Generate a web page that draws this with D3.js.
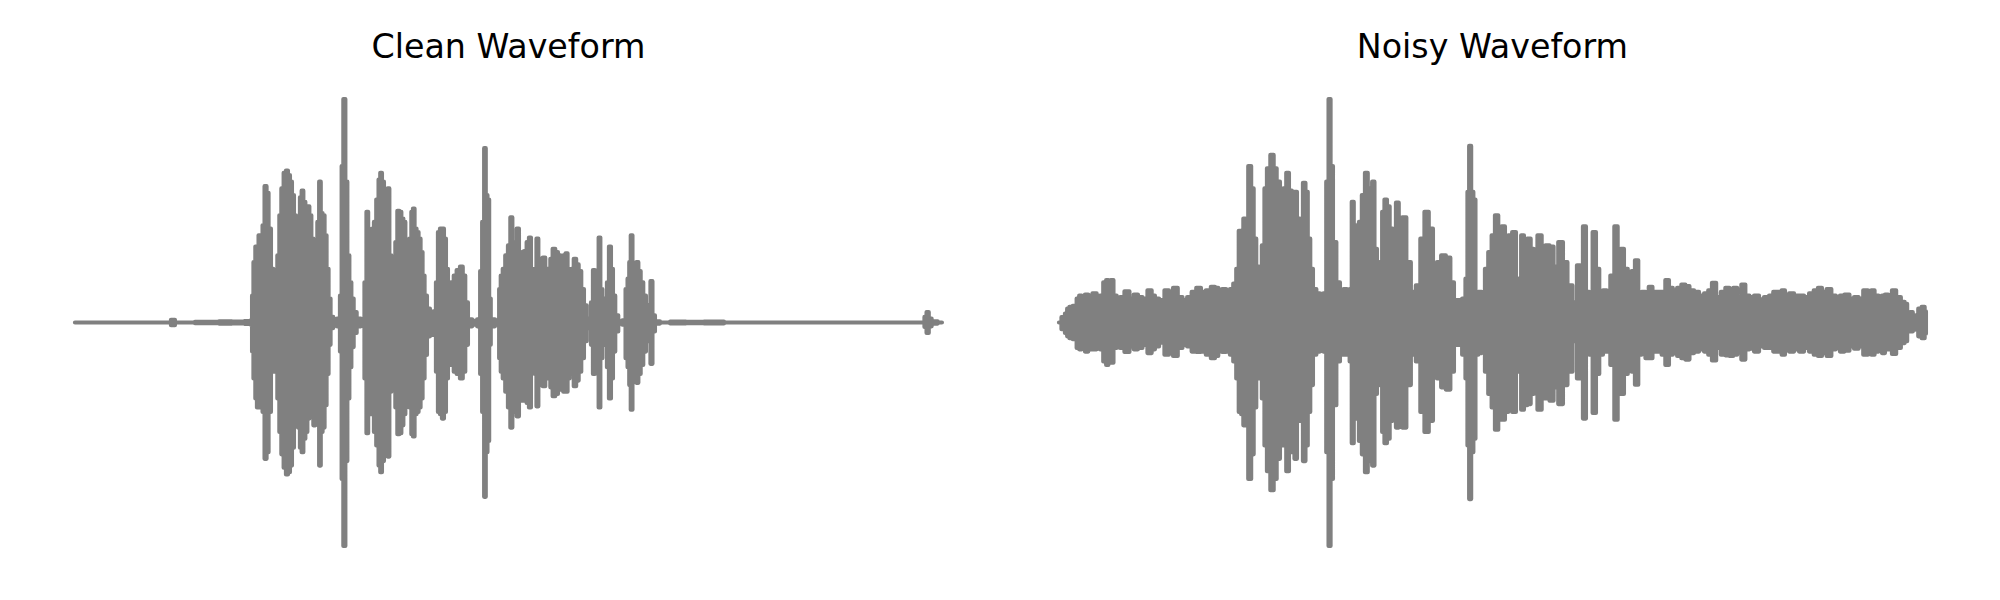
<!DOCTYPE html>
<html><head><meta charset="utf-8">
<script src="https://cdn.jsdelivr.net/npm/d3@7"></script>
<style>body{margin:0;background:#fff}</style>
</head><body><svg id="chart" width="2000" height="600"></svg>
<script>
// Titles of the two panels
const panelTitles = ["Clean Waveform", "Noisy Waveform"];
// Duration of the recording (seconds)
const duration = 4.335;

// Envelope of the clean waveform: [time (s), upper amplitude, lower amplitude]
const cleanEnvelope = [
[0,0,0],[0.47,0,0],[0.49,0.012,-0.012],[0.51,0,0],[0.69,0.003,-0.003],[0.75,0.005,-0.005],[0.82,0.004,-0.004],[0.875,0.006,-0.006],
[0.883,0.01,-0.01],[0.888,0.12,-0.13],[0.897,0.27,-0.25],[0.907,0.34,-0.34],[0.913,0.32,-0.38],[0.923,0.39,-0.38],[0.933,0.375,-0.34],
[0.943,0.435,-0.40],[0.953,0.61,-0.61],[0.963,0.58,-0.58],[0.973,0.42,-0.40],[0.987,0.24,-0.22],[0.997,0.215,-0.21],[1.007,0.22,-0.22],
[1.017,0.30,-0.34],[1.027,0.48,-0.49],[1.037,0.60,-0.59],[1.05,0.67,-0.65],[1.06,0.68,-0.68],[1.07,0.66,-0.67],[1.08,0.63,-0.64],
[1.09,0.57,-0.56],[1.10,0.48,-0.46],[1.11,0.39,-0.40],[1.12,0.45,-0.47],[1.13,0.56,-0.56],[1.137,0.59,-0.58],[1.147,0.54,-0.52],
[1.157,0.52,-0.49],[1.167,0.52,-0.43],[1.177,0.48,-0.40],[1.187,0.375,-0.38],[1.197,0.345,-0.46],[1.207,0.345,-0.38],[1.217,0.45,-0.40],
[1.225,0.63,-0.64],[1.233,0.49,-0.49],[1.243,0.48,-0.47],[1.253,0.39,-0.37],[1.263,0.24,-0.23],[1.273,0.107,-0.10],[1.283,0.025,-0.025],
[1.30,0.01,-0.01],[1.32,0.017,-0.017],[1.33,0.12,-0.13],[1.337,0.70,-0.70],[1.347,1.0,-1.0],[1.357,0.63,-0.62],[1.367,0.30,-0.34],
[1.377,0.18,-0.20],[1.387,0.107,-0.11],[1.40,0.047,-0.047],[1.417,0.017,-0.017],[1.442,0.005,-0.005],[1.453,0.18,-0.25],[1.462,0.495,-0.495],
[1.47,0.39,-0.40],[1.48,0.39,-0.41],[1.49,0.42,-0.40],[1.50,0.45,-0.49],[1.513,0.55,-0.55],[1.523,0.64,-0.64],[1.53,0.67,-0.67],
[1.54,0.63,-0.62],[1.55,0.51,-0.52],[1.56,0.57,-0.58],[1.567,0.60,-0.60],[1.577,0.30,-0.31],[1.587,0.12,-0.13],[1.597,0.10,-0.10],
[1.607,0.36,-0.38],[1.617,0.50,-0.50],[1.627,0.495,-0.495],[1.637,0.465,-0.46],[1.647,0.45,-0.41],[1.657,0.33,-0.32],[1.667,0.315,-0.29],
[1.677,0.375,-0.38],[1.687,0.495,-0.50],[1.693,0.51,-0.51],[1.703,0.42,-0.41],[1.713,0.405,-0.40],[1.723,0.375,-0.38],[1.733,0.315,-0.34],
[1.743,0.21,-0.25],[1.753,0.12,-0.145],[1.767,0.062,-0.062],[1.783,0.047,-0.055],[1.80,0.05,-0.055],[1.81,0.18,-0.22],[1.82,0.405,-0.40],
[1.83,0.42,-0.41],[1.84,0.42,-0.43],[1.85,0.375,-0.40],[1.86,0.24,-0.25],[1.87,0.12,-0.13],[1.888,0.18,-0.19],[1.90,0.21,-0.22],
[1.917,0.235,-0.23],[1.933,0.25,-0.25],[1.945,0.21,-0.22],[1.958,0.09,-0.10],[1.972,0.014,-0.017],[2.0,0.008,-0.01],[2.022,0.014,-0.017],
[2.03,0.23,-0.23],[2.042,0.45,-0.40],[2.05,0.78,-0.78],[2.058,0.57,-0.58],[2.067,0.55,-0.53],[2.075,0.107,-0.10],[2.083,0.014,-0.017],
[2.117,0.01,-0.01],[2.125,0.15,-0.16],[2.133,0.21,-0.22],[2.145,0.24,-0.25],[2.158,0.30,-0.31],[2.172,0.345,-0.38],[2.182,0.47,-0.47],
[2.192,0.36,-0.40],[2.202,0.33,-0.37],[2.215,0.42,-0.42],[2.225,0.315,-0.34],[2.238,0.31,-0.35],[2.252,0.32,-0.34],[2.265,0.36,-0.36],
[2.275,0.38,-0.38],[2.285,0.24,-0.22],[2.295,0.15,-0.13],[2.303,0.24,-0.23],[2.312,0.375,-0.375],[2.322,0.27,-0.26],[2.333,0.285,-0.28],
[2.345,0.29,-0.285],[2.358,0.24,-0.25],[2.372,0.18,-0.20],[2.382,0.285,-0.29],[2.395,0.33,-0.33],[2.408,0.315,-0.32],[2.422,0.30,-0.29],
[2.435,0.285,-0.30],[2.448,0.30,-0.31],[2.458,0.31,-0.31],[2.468,0.24,-0.25],[2.478,0.15,-0.19],[2.488,0.24,-0.23],[2.5,0.285,-0.285],
[2.512,0.26,-0.26],[2.525,0.23,-0.22],[2.538,0.15,-0.16],[2.552,0.077,-0.084],[2.565,0.017,-0.025],[2.575,0.005,-0.005],[2.585,0.09,-0.10],
[2.595,0.235,-0.23],[2.605,0.15,-0.16],[2.615,0.196,-0.20],[2.622,0.38,-0.38],[2.632,0.15,-0.16],[2.642,0.107,-0.10],[2.655,0.09,-0.084],
[2.665,0.18,-0.20],[2.675,0.34,-0.34],[2.685,0.24,-0.25],[2.695,0.12,-0.13],[2.708,0.032,-0.04],[2.725,0.005,-0.005],[2.748,0.01,-0.01],
[2.758,0.15,-0.16],[2.768,0.196,-0.20],[2.775,0.27,-0.28],[2.783,0.39,-0.39],[2.792,0.24,-0.25],[2.802,0.26,-0.26],[2.812,0.27,-0.27],
[2.822,0.23,-0.23],[2.835,0.18,-0.19],[2.848,0.12,-0.13],[2.862,0.077,-0.084],[2.872,0.047,-0.055],[2.883,0.185,-0.185],[2.892,0.032,-0.04],
[2.908,0.005,-0.005],[2.942,0,0],[3.01,0.004,-0.004],[3.1,0.003,-0.003],[3.19,0.004,-0.004],[3.3,0,0],[4.242,0,0],
[4.253,0.025,-0.02],[4.263,0.047,-0.047],[4.275,0.017,-0.017],[4.292,0.005,-0.005],[4.335,0,0]
];

// Envelope of the noisy waveform: [time (s), upper amplitude, lower amplitude]
const noisyEnvelope = [
[0,0,0],[0.025,0.024,-0.03],[0.035,0.04,-0.047],[0.047,0.062,-0.062],[0.058,0.07,-0.07],[0.08,0.075,-0.075],[0.097,0.107,-0.114],
[0.105,0.12,-0.12],[0.122,0.114,-0.114],[0.138,0.125,-0.13],[0.155,0.12,-0.12],[0.18,0.13,-0.12],[0.197,0.104,-0.107],[0.213,0.12,-0.12],
[0.23,0.18,-0.174],[0.242,0.19,-0.19],[0.252,0.13,-0.144],[0.265,0.19,-0.18],[0.28,0.12,-0.114],[0.297,0.10,-0.10],[0.313,0.114,-0.114],
[0.342,0.14,-0.132],[0.363,0.107,-0.107],[0.385,0.125,-0.12],[0.405,0.114,-0.114],[0.43,0.107,-0.10],[0.455,0.144,-0.137],[0.472,0.12,-0.12],
[0.488,0.107,-0.107],[0.513,0.10,-0.09],[0.542,0.144,-0.144],[0.558,0.12,-0.12],[0.583,0.155,-0.15],[0.605,0.114,-0.114],[0.63,0.10,-0.10],
[0.652,0.114,-0.107],[0.675,0.137,-0.13],[0.698,0.155,-0.132],[0.722,0.137,-0.13],[0.747,0.144,-0.144],[0.772,0.16,-0.16],[0.788,0.155,-0.15],
[0.805,0.12,-0.12],[0.825,0.15,-0.132],[0.847,0.13,-0.13],[0.863,0.15,-0.144],
[0.88,0.174,-0.174],[0.893,0.24,-0.25],[0.905,0.41,-0.40],[0.917,0.33,-0.41],[0.927,0.465,-0.46],[0.938,0.435,-0.40],[0.955,0.70,-0.70],
[0.967,0.60,-0.59],[0.98,0.375,-0.38],[0.993,0.25,-0.25],[1.007,0.24,-0.23],[1.022,0.345,-0.34],[1.033,0.60,-0.55],[1.047,0.69,-0.665],
[1.067,0.75,-0.75],[1.08,0.69,-0.70],[1.097,0.63,-0.61],[1.113,0.435,-0.50],[1.13,0.60,-0.55],[1.143,0.67,-0.665],[1.157,0.59,-0.58],
[1.172,0.58,-0.55],[1.183,0.585,-0.61],[1.197,0.465,-0.44],[1.213,0.42,-0.41],[1.227,0.625,-0.62],[1.238,0.585,-0.55],[1.25,0.375,-0.40],
[1.263,0.24,-0.28],[1.277,0.15,-0.144],[1.297,0.13,-0.13],[1.313,0.12,-0.12],[1.33,0.13,-0.13],[1.343,0.63,-0.58],[1.353,1.0,-1.0],
[1.363,0.70,-0.70],[1.377,0.36,-0.37],[1.397,0.18,-0.174],[1.413,0.107,-0.114],[1.433,0.15,-0.144],[1.447,0.12,-0.13],[1.46,0.15,-0.174],
[1.468,0.54,-0.54],[1.48,0.435,-0.43],[1.493,0.43,-0.43],[1.507,0.45,-0.53],[1.522,0.57,-0.59],[1.538,0.67,-0.67],[1.55,0.60,-0.62],
[1.56,0.52,-0.55],[1.572,0.63,-0.64],[1.583,0.33,-0.32],[1.597,0.166,-0.16],[1.61,0.27,-0.28],[1.622,0.495,-0.49],[1.633,0.55,-0.54],
[1.647,0.52,-0.52],[1.66,0.42,-0.44],[1.677,0.375,-0.37],[1.693,0.536,-0.47],[1.705,0.42,-0.41],[1.727,0.47,-0.47],[1.747,0.27,-0.28],
[1.772,0.137,-0.144],[1.797,0.166,-0.174],[1.817,0.375,-0.40],[1.838,0.495,-0.49],[1.86,0.42,-0.44],
[1.88,0.21,-0.21],[1.9,0.27,-0.25],[1.922,0.30,-0.29],[1.947,0.29,-0.30],[1.967,0.18,-0.22],[1.983,0.10,-0.10],[2.005,0.10,-0.10],
[2.027,0.107,-0.144],[2.038,0.196,-0.25],[2.047,0.585,-0.55],[2.055,0.79,-0.79],[2.067,0.585,-0.58],[2.077,0.55,-0.52],[2.088,0.12,-0.144],
[2.105,0.137,-0.137],[2.122,0.084,-0.09],[2.138,0.24,-0.22],[2.155,0.315,-0.32],[2.172,0.39,-0.38],[2.188,0.48,-0.48],[2.205,0.345,-0.38],
[2.222,0.43,-0.435],[2.238,0.375,-0.40],[2.255,0.39,-0.38],[2.277,0.405,-0.40],[2.293,0.15,-0.13],[2.305,0.196,-0.22],[2.317,0.39,-0.39],
[2.333,0.36,-0.37],[2.35,0.375,-0.365],[2.367,0.33,-0.32],[2.38,0.256,-0.26],[2.405,0.39,-0.39],[2.422,0.315,-0.34],[2.443,0.345,-0.34],
[2.463,0.34,-0.35],[2.483,0.25,-0.29],[2.51,0.36,-0.365],[2.53,0.27,-0.28],[2.555,0.166,-0.22],[2.58,0.09,-0.084],[2.6,0.256,-0.25],
[2.613,0.15,-0.13],[2.627,0.43,-0.43],[2.643,0.137,-0.13],[2.66,0.12,-0.144],[2.677,0.405,-0.405],[2.693,0.24,-0.23],[2.71,0.137,-0.144],
[2.73,0.144,-0.13],[2.747,0.12,-0.13],[2.767,0.21,-0.19],[2.787,0.43,-0.435],[2.8,0.26,-0.28],[2.817,0.33,-0.32],[2.833,0.24,-0.23],
[2.855,0.196,-0.174],[2.872,0.23,-0.22],[2.888,0.278,-0.278],[2.905,0.12,-0.144],[2.922,0.137,-0.13],[2.943,0.12,-0.16],
[2.955,0.16,-0.16],[2.98,0.137,-0.13],[3.005,0.137,-0.13],[3.022,0.137,-0.144],[3.042,0.19,-0.19],[3.058,0.155,-0.144],[3.08,0.144,-0.137],
[3.102,0.155,-0.15],[3.122,0.17,-0.16],[3.142,0.163,-0.166],[3.163,0.144,-0.137],[3.188,0.137,-0.13],[3.213,0.12,-0.12],[3.238,0.13,-0.13],
[3.255,0.144,-0.144],[3.275,0.178,-0.17],[3.297,0.114,-0.114],[3.322,0.137,-0.144],[3.342,0.155,-0.147],[3.363,0.144,-0.15],[3.38,0.155,-0.144],
[3.402,0.114,-0.12],[3.422,0.17,-0.166],[3.442,0.12,-0.12],[3.463,0.114,-0.117],[3.488,0.12,-0.13],[3.513,0.104,-0.107],[3.538,0.114,-0.114],
[3.563,0.12,-0.114],[3.58,0.137,-0.13],[3.605,0.137,-0.13],[3.622,0.144,-0.144],[3.638,0.12,-0.12],[3.663,0.13,-0.13],[3.688,0.12,-0.12],
[3.713,0.12,-0.13],[3.738,0.114,-0.114],[3.763,0.13,-0.13],[3.785,0.144,-0.144],[3.805,0.155,-0.15],[3.825,0.137,-0.137],[3.852,0.15,-0.15],
[3.872,0.12,-0.12],[3.897,0.114,-0.114],[3.913,0.12,-0.13],[3.942,0.125,-0.126],[3.963,0.107,-0.107],[3.988,0.114,-0.117],[4.008,0.107,-0.107],
[4.035,0.144,-0.144],[4.055,0.12,-0.13],[4.068,0.144,-0.144],[4.088,0.12,-0.13],[4.108,0.114,-0.114],[4.122,0.12,-0.137],[4.138,0.125,-0.12],
[4.155,0.114,-0.12],[4.175,0.144,-0.141],[4.197,0.114,-0.114],[4.222,0.092,-0.092],[4.235,0.084,-0.084],[4.247,0.0,-0.01],[4.263,0.047,-0.04],
[4.275,0.032,-0.032],[4.288,0.017,-0.017],[4.305,0.062,-0.062],[4.322,0.07,-0.07],[4.335,0.05,-0.05]
];

const svg = d3.select("#chart");
const panels = [
  {title: panelTitles[0], data: cleanEnvelope, left: 31.6, right: 985.3},
  {title: panelTitles[1], data: noisyEnvelope, left: 1015.6, right: 1969.3}
];
const y = d3.scaleLinear().domain([-1.1, 1.1]).range([568.35, 76.65]);

panels.forEach(p => {
  const x = d3.scaleLinear()
    .domain([-0.05 * duration, 1.05 * duration])
    .range([p.left, p.right]);
  const area = d3.area()
    .curve(d3.curveStep)
    .x(d => x(d[0]))
    .y0(d => y(d[2]))
    .y1(d => y(d[1]));
  svg.append("path")
    .datum(p.data)
    .attr("d", area)
    .attr("fill", "#808080")
    .attr("stroke", "#808080")
    .attr("stroke-width", 4.17)
    .attr("stroke-linejoin", "round");
  svg.append("text")
    .attr("x", (p.left + p.right) / 2)
    .attr("y", 58)
    .attr("text-anchor", "middle")
    .attr("font-family", "DejaVu Sans")
    .attr("font-size", 33.3)
    .attr("fill", "#000")
    .text(p.title);
});
</script>
</body></html>
